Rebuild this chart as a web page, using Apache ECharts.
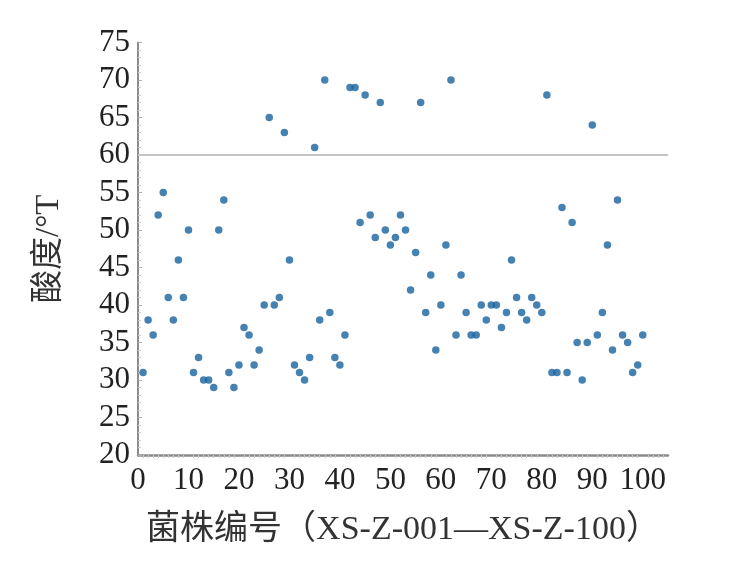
<!DOCTYPE html>
<html>
<head>
<meta charset="utf-8">
<script src="https://cdn.jsdelivr.net/npm/echarts@6/dist/echarts.min.js"></script>
<style>html,body{margin:0;padding:0;background:#fff;}#chart{width:750px;height:574px;}</style>
</head>
<body>
<div id="chart"></div>
<script>
// Strain numbers (XS-Z-001 ... XS-Z-100)
const strainIds = Array.from({length: 100}, (_, i) => i + 1);
// Acidity (°T)
const acidity = [
  31, 38, 36, 52, 55, 41, 38, 46, 41, 50,
  31, 33, 30, 30, 29, 50, 54, 31, 29, 32,
  37, 36, 32, 34, 40, 65, 40, 41, 63, 46,
  32, 31, 30, 33, 61, 38, 70, 39, 33, 32,
  36, 69, 69, 51, 68, 52, 49, 67, 50, 48,
  49, 52, 50, 42, 47, 67, 39, 44, 34, 40,
  48, 70, 36, 44, 39, 36, 36, 40, 38, 40,
  40, 37, 39, 46, 41, 39, 38, 41, 40, 39,
  68, 31, 31, 53, 31, 51, 35, 30, 35, 64,
  36, 39, 48, 34, 54, 36, 35, 31, 32, 36
];
const referenceLine = 60;
const xTickLabels = ['0','10','20','30','40','50','60','70','80','90','100'];
const yTickLabels = ['20','25','30','35','40','45','50','55','60','65','70','75'];

const points = strainIds.map((id, i) => [id, acidity[i]]);

const chart = echarts.init(document.getElementById('chart'), null, {renderer: 'canvas'});
const serif = '"Liberation Serif", "Times New Roman", serif';
const mixed = '"Liberation Serif", "Noto Sans CJK SC", serif';
chart.setOption({
  animation: false,
  backgroundColor: '#ffffff',
  grid: {left: 138, right: 82, top: 42.5, bottom: 119},
  xAxis: {
    type: 'value', min: 0, max: 105, interval: 10,
    name: '菌株编号（XS-Z-001—XS-Z-100）',
    nameLocation: 'middle', nameGap: 58,
    nameTextStyle: {fontFamily: mixed, fontSize: 34, color: '#333'},
    axisLine: {show: true, lineStyle: {color: '#8c8c8c', width: 2.5}},
    axisTick: {show: false},
    minorTick: {show: true, splitNumber: 10, length: 3, lineStyle: {color: '#c8c8c8'}},
    splitLine: {show: false},
    axisLabel: {
      color: '#222', fontFamily: serif, fontSize: 31, margin: 10, showMaxLabel: false,
      formatter: v => xTickLabels.includes(String(v)) ? String(v) : ''
    }
  },
  yAxis: {
    type: 'value', min: 20, max: 75, interval: 5,
    name: '酸度/°T',
    nameLocation: 'middle', nameGap: 72, nameRotate: 90,
    nameTextStyle: {fontFamily: mixed, fontSize: 33, color: '#333'},
    axisLine: {show: true, lineStyle: {color: '#8c8c8c', width: 2}},
    axisTick: {show: true, inside: true, length: 4, lineStyle: {color: '#b0b0b0'}},
    minorTick: {show: true, splitNumber: 5, length: 3, lineStyle: {color: '#cfcfcf'}},
    splitLine: {show: false},
    axisLabel: {
      color: '#222', fontFamily: serif, fontSize: 31, margin: 8,
      formatter: v => yTickLabels.includes(String(v)) ? String(v) : ''
    }
  },
  series: [{
    type: 'scatter',
    data: points,
    symbol: 'circle',
    symbolSize: 7.5,
    itemStyle: {color: '#16639f'},
    markLine: {
      silent: true,
      symbol: ['none', 'none'],
      label: {show: false},
      lineStyle: {color: '#c4c4c4', width: 2, type: 'solid'},
      data: [{yAxis: referenceLine}]
    }
  }]
});
</script>
</body>
</html>
